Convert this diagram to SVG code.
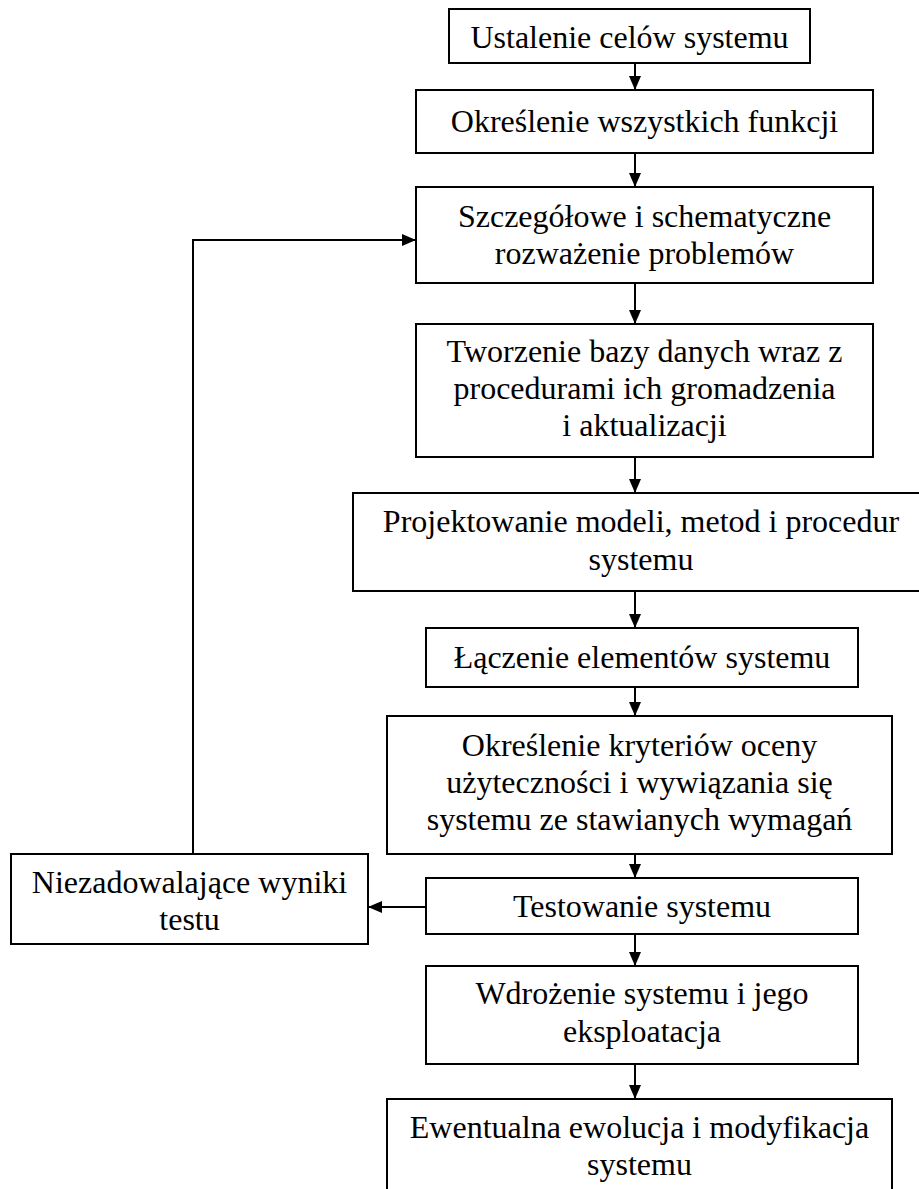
<svg xmlns="http://www.w3.org/2000/svg" width="919" height="1189" viewBox="0 0 919 1189">
  <style>
    .box { fill: #ffffff; stroke: #000000; stroke-width: 2; }
    .lbl { font-family: "Liberation Serif", "Times New Roman", serif; font-size: 32px; fill: #000000; text-anchor: middle; }
    .wire { fill: none; stroke: #000000; stroke-width: 2; }
  </style>
  <defs>
    <marker id="arrow" viewBox="0 0 14 12" refX="14" refY="6" markerWidth="14" markerHeight="12" markerUnits="userSpaceOnUse" orient="auto">
      <path d="M0,0 L14,6 L0,12 Z" fill="#000000"/>
    </marker>
  </defs>

  <rect width="919" height="1189" fill="#ffffff"/>

  <g id="connectors">
    <line class="wire" x1="635" y1="63" x2="635" y2="90" marker-end="url(#arrow)"/>
    <line class="wire" x1="635" y1="153" x2="635" y2="187" marker-end="url(#arrow)"/>
    <line class="wire" x1="635" y1="283" x2="635" y2="324" marker-end="url(#arrow)"/>
    <line class="wire" x1="635" y1="457" x2="635" y2="493" marker-end="url(#arrow)"/>
    <line class="wire" x1="635" y1="591" x2="635" y2="628" marker-end="url(#arrow)"/>
    <line class="wire" x1="635" y1="687" x2="635" y2="716" marker-end="url(#arrow)"/>
    <line class="wire" x1="635" y1="854" x2="635" y2="878" marker-end="url(#arrow)"/>
    <line class="wire" x1="635" y1="934" x2="635" y2="966" marker-end="url(#arrow)"/>
    <line class="wire" x1="635" y1="1064" x2="635" y2="1099" marker-end="url(#arrow)"/>
    <line class="wire" x1="426" y1="907" x2="368" y2="907" marker-end="url(#arrow)"/>
    <polyline class="wire" points="193,854 193,240 416,240" marker-end="url(#arrow)"/>
  </g>

  <g id="cele">
    <rect class="box" x="449" y="9" width="361" height="54"/>
    <text class="lbl" x="629.5" y="48">Ustalenie celów systemu</text>
  </g>

  <g id="funkcje">
    <rect class="box" x="416" y="90" width="457" height="63"/>
    <text class="lbl" x="644.5" y="132">Określenie wszystkich funkcji</text>
  </g>

  <g id="problemy">
    <rect class="box" x="416" y="187" width="457" height="96"/>
    <text class="lbl" x="644.5" y="227">Szczegółowe i schematyczne</text>
    <text class="lbl" x="644.5" y="264">rozważenie problemów</text>
  </g>

  <g id="baza">
    <rect class="box" x="416" y="324" width="457" height="133"/>
    <text class="lbl" x="644.5" y="362">Tworzenie bazy danych wraz z</text>
    <text class="lbl" x="644.5" y="399">procedurami ich gromadzenia</text>
    <text class="lbl" x="644.5" y="436">i aktualizacji</text>
  </g>

  <g id="projektowanie">
    <rect class="box" x="353" y="493" width="576" height="98"/>
    <text class="lbl" x="641" y="532">Projektowanie modeli, metod i procedur</text>
    <text class="lbl" x="641" y="570">systemu</text>
  </g>

  <g id="laczenie">
    <rect class="box" x="426" y="628" width="432" height="59"/>
    <text class="lbl" x="642" y="668">Łączenie elementów systemu</text>
  </g>

  <g id="kryteria">
    <rect class="box" x="387" y="716" width="505" height="138"/>
    <text class="lbl" x="639.5" y="756">Określenie kryteriów oceny</text>
    <text class="lbl" x="639.5" y="793">użyteczności i wywiązania się</text>
    <text class="lbl" x="639.5" y="830">systemu ze stawianych wymagań</text>
  </g>

  <g id="testowanie">
    <rect class="box" x="426" y="878" width="432" height="56"/>
    <text class="lbl" x="642" y="917">Testowanie systemu</text>
  </g>

  <g id="wdrozenie">
    <rect class="box" x="426" y="966" width="432" height="98"/>
    <text class="lbl" x="642" y="1004">Wdrożenie systemu i jego</text>
    <text class="lbl" x="642" y="1042">eksploatacja</text>
  </g>

  <g id="ewolucja">
    <rect class="box" x="387" y="1099" width="505" height="100"/>
    <text class="lbl" x="639.5" y="1138">Ewentualna ewolucja i modyfikacja</text>
    <text class="lbl" x="639.5" y="1175">systemu</text>
  </g>

  <g id="wyniki">
    <rect class="box" x="11" y="854" width="357" height="90"/>
    <text class="lbl" x="189.5" y="893">Niezadowalające wyniki</text>
    <text class="lbl" x="189.5" y="930">testu</text>
  </g>
</svg>
